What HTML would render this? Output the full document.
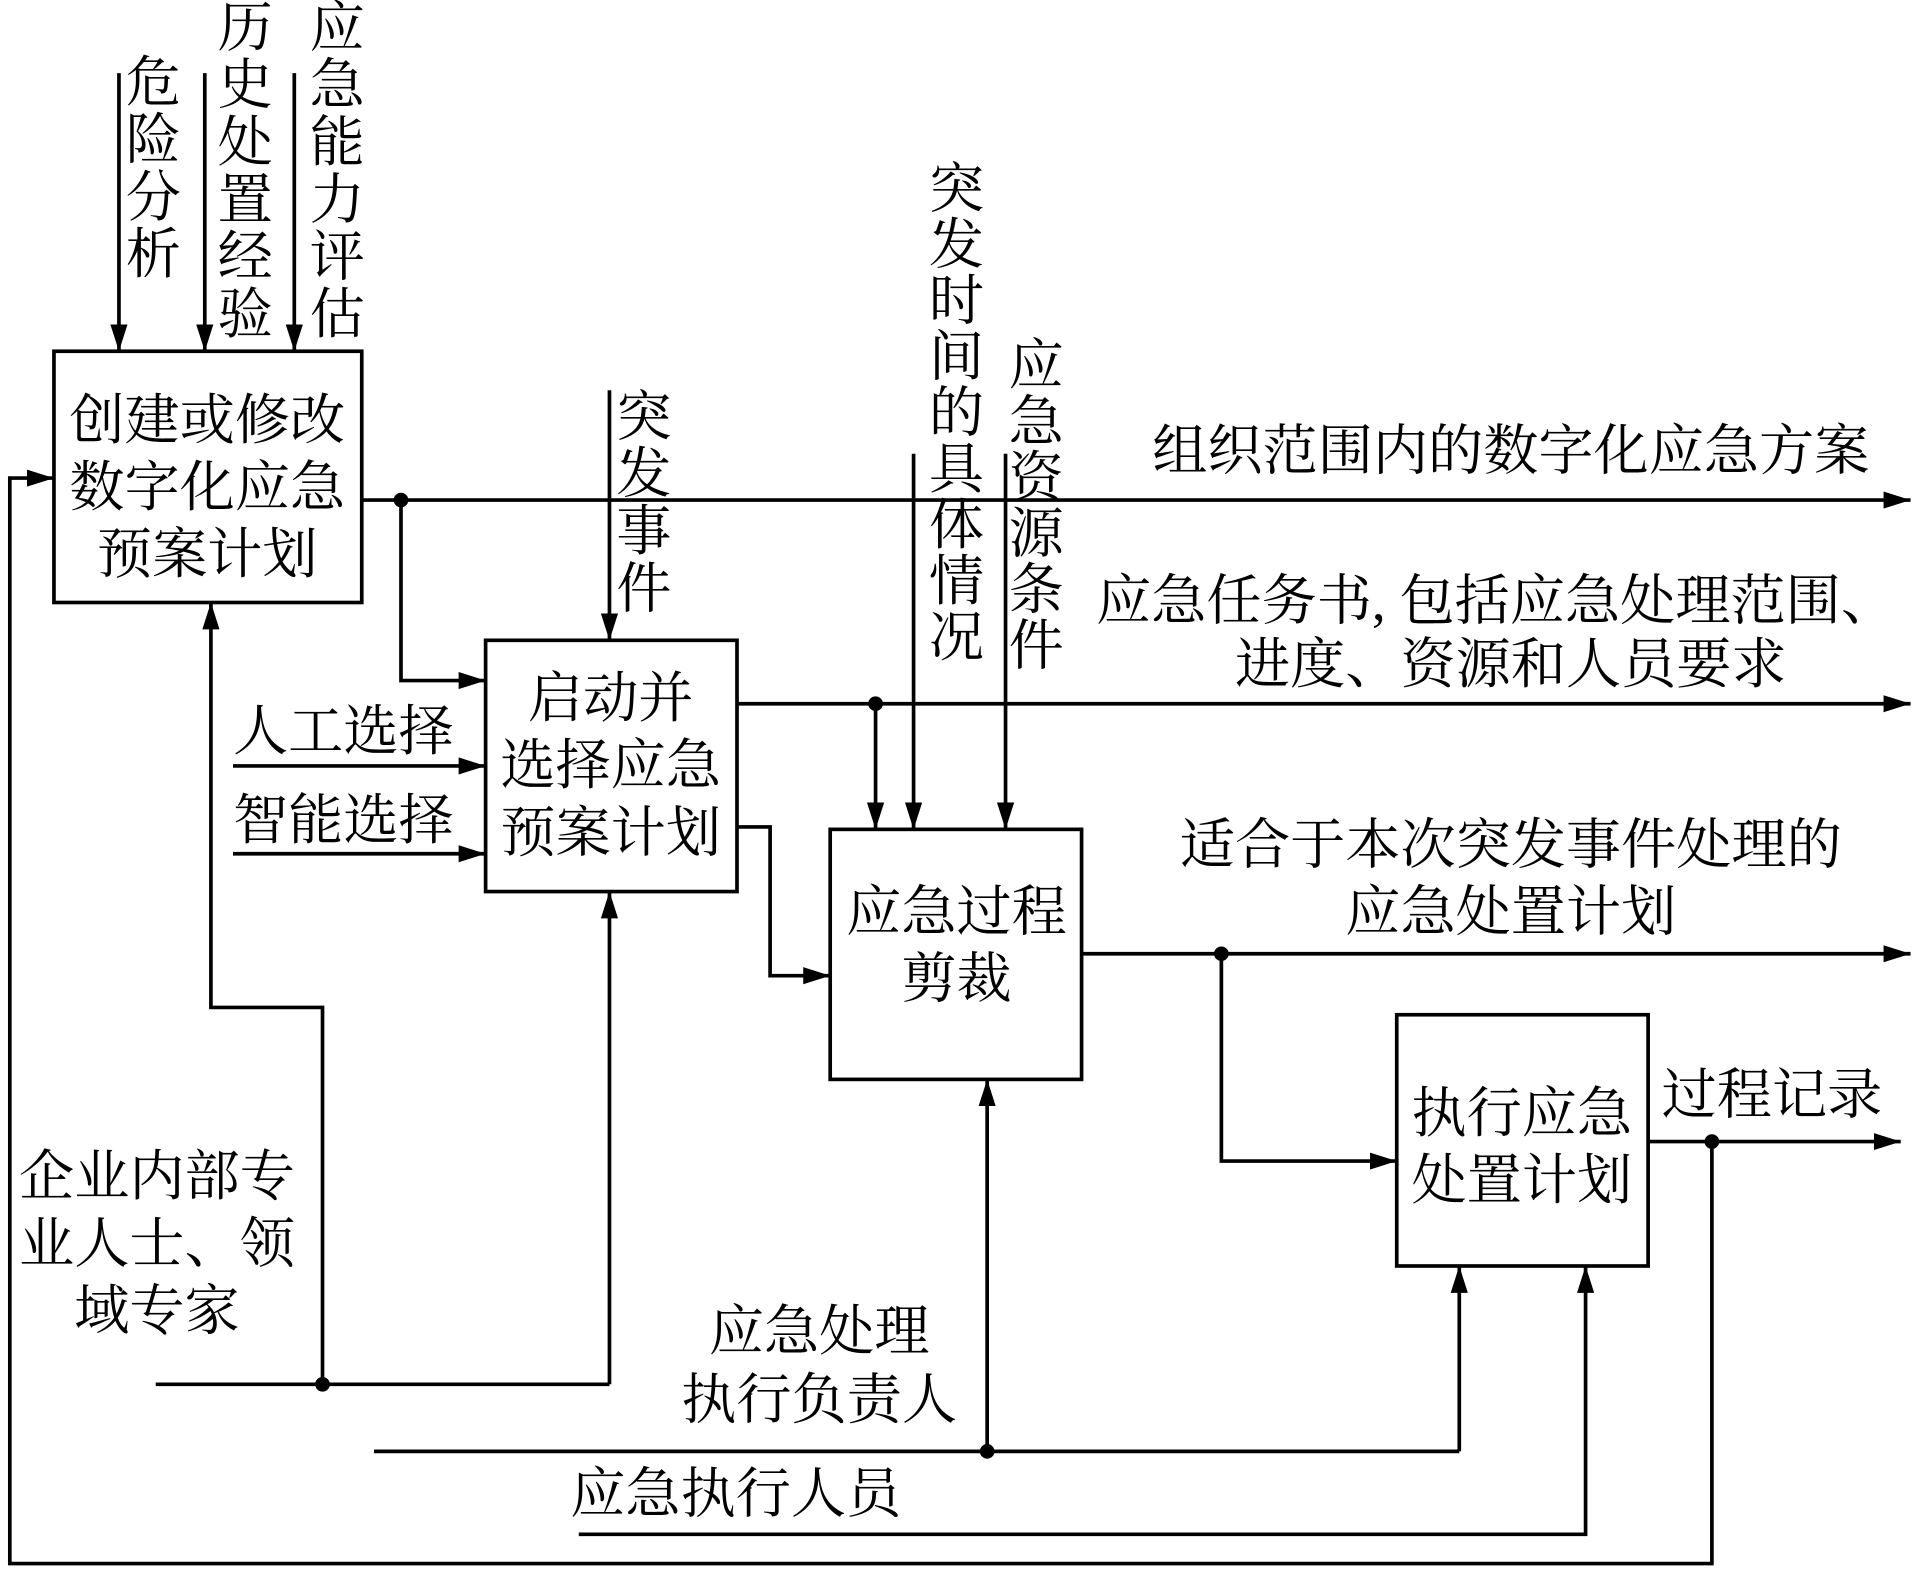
<!DOCTYPE html>
<html><head><meta charset="utf-8"><style>
html,body{margin:0;padding:0;background:#fff;}
svg{display:block}
text{font-family:"Liberation Serif","Noto Serif CJK SC","Noto Sans CJK SC",serif;font-size:45px;fill:#000}
</style></head><body>
<svg width="1913" height="1577" viewBox="0 0 1560 1293" preserveAspectRatio="none" xmlns="http://www.w3.org/2000/svg">
<defs><marker id="a" markerWidth="22" markerHeight="14" refX="22" refY="7" orient="auto" markerUnits="userSpaceOnUse"><path d="M0,0 L22,7 L0,14 Z" fill="#000"/></marker></defs>
<g fill="none" stroke="#000" stroke-width="3">
<rect x="44" y="288" width="251" height="206"/>
<rect x="396" y="525" width="205" height="206"/>
<rect x="677" y="680" width="205" height="205"/>
<rect x="1139" y="832" width="205" height="206"/>
<line x1="97" y1="60" x2="97" y2="288" marker-end="url(#a)"/>
<line x1="167" y1="60" x2="167" y2="288" marker-end="url(#a)"/>
<line x1="240" y1="60" x2="240" y2="288" marker-end="url(#a)"/>
<line x1="497" y1="320" x2="497" y2="525" marker-end="url(#a)"/>
<line x1="745" y1="372" x2="745" y2="680" marker-end="url(#a)"/>
<line x1="820" y1="372" x2="820" y2="680" marker-end="url(#a)"/>
<line x1="295" y1="410" x2="1558" y2="410" marker-end="url(#a)"/>
<polyline points="327,410 327,558 396,558" marker-end="url(#a)"/>
<line x1="601" y1="577" x2="1558" y2="577" marker-end="url(#a)"/>
<line x1="714" y1="577" x2="714" y2="680" marker-end="url(#a)"/>
<polyline points="601,678 628,678 628,800 677,800" marker-end="url(#a)"/>
<line x1="190" y1="628" x2="396" y2="628" marker-end="url(#a)"/>
<line x1="190" y1="700" x2="396" y2="700" marker-end="url(#a)"/>
<line x1="882" y1="782" x2="1558" y2="782" marker-end="url(#a)"/>
<polyline points="996,782 996,952 1139,952" marker-end="url(#a)"/>
<line x1="1344" y1="936" x2="1550" y2="936" marker-end="url(#a)"/>
<polyline points="1396,936 1396,1282 8,1282 8,392 44,392" marker-end="url(#a)"/>
<line x1="127" y1="1135" x2="497" y2="1135"/>
<line x1="497" y1="1135" x2="497" y2="731" marker-end="url(#a)"/>
<polyline points="263,1135 263,826 172,826 172,494" marker-end="url(#a)"/>
<line x1="305" y1="1190" x2="1190" y2="1190"/>
<line x1="1190" y1="1190" x2="1190" y2="1038" marker-end="url(#a)"/>
<line x1="805" y1="1190" x2="805" y2="885" marker-end="url(#a)"/>
<polyline points="472,1258 1293,1258 1293,1038" marker-end="url(#a)"/>
</g>
<g fill="#000">
<circle cx="327" cy="410" r="6"/><circle cx="714" cy="577" r="6"/><circle cx="996" cy="782" r="6"/>
<circle cx="1396" cy="936" r="6"/><circle cx="263" cy="1135" r="6"/><circle cx="805" cy="1190" r="6"/>
</g>
<g text-anchor="middle">
<text x="169" y="360">创建或修改</text><text x="169" y="415">数字化应急</text><text x="169" y="470">预案计划</text>
<text x="498" y="588">启动并</text><text x="498" y="643">选择应急</text><text x="498" y="698">预案计划</text>
<text x="780" y="763">应急过程</text><text x="780" y="818">剪裁</text>
<text x="1241" y="928">执行应急</text><text x="1241" y="983">处置计划</text>
<text x="125" y="83">危</text><text x="125" y="130">险</text><text x="125" y="177">分</text><text x="125" y="224">析</text>
<text x="200" y="38">历</text><text x="200" y="85">史</text><text x="200" y="132">处</text><text x="200" y="179">置</text><text x="200" y="226">经</text><text x="200" y="273">验</text>
<text x="275" y="38">应</text><text x="275" y="85">急</text><text x="275" y="132">能</text><text x="275" y="179">力</text><text x="275" y="226">评</text><text x="275" y="273">估</text>
<text x="525" y="357">突</text><text x="525" y="404">发</text><text x="525" y="451">事</text><text x="525" y="498">件</text>
<text x="780" y="170">突</text><text x="780" y="216">发</text><text x="780" y="262">时</text><text x="780" y="308">间</text><text x="780" y="354">的</text><text x="780" y="400">具</text><text x="780" y="446">体</text><text x="780" y="492">情</text><text x="780" y="538">况</text>
<text x="845" y="315">应</text><text x="845" y="361">急</text><text x="845" y="407">资</text><text x="845" y="453">源</text><text x="845" y="499">条</text><text x="845" y="545">件</text>
<text x="1232" y="385">组织范围内的数字化应急方案</text>
<text x="1220" y="508">应急任务书, 包括应急处理范围、</text>
<text x="1232" y="560">进度、资源和人员要求</text>
<text x="1232" y="708">适合于本次突发事件处理的</text>
<text x="1232" y="763">应急处置计划</text>
<text x="1445" y="913">过程记录</text>
<text x="280" y="615">人工选择</text>
<text x="280" y="688">智能选择</text>
<text x="128" y="980">企业内部专</text><text x="128" y="1035">业人士、领</text><text x="128" y="1090">域专家</text>
<text x="668" y="1107">应急处理</text><text x="668" y="1163">执行负责人</text>
<text x="600" y="1240">应急执行人员</text>
</g>
</svg>
</body></html>
